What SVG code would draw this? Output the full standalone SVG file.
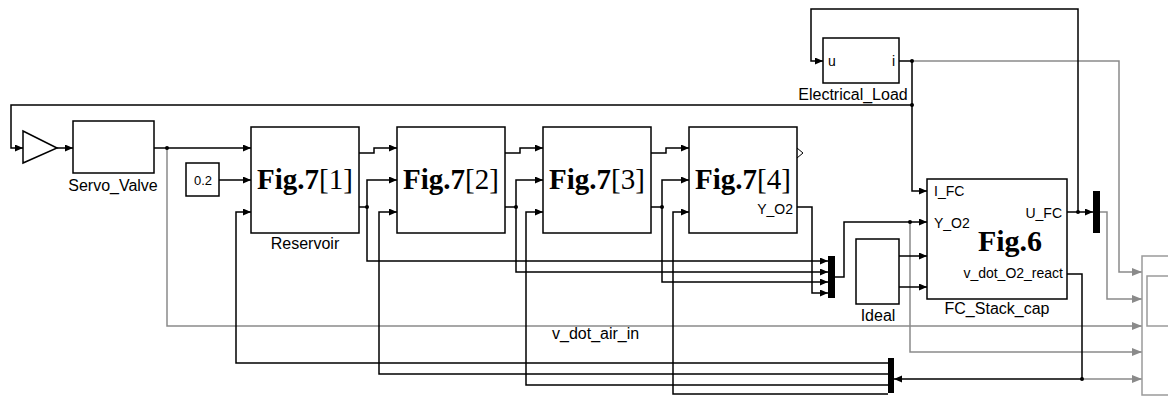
<svg xmlns="http://www.w3.org/2000/svg" width="1168" height="396" viewBox="0 0 1168 396">
<style>
.blk{fill:#fff;stroke:#000;stroke-width:1.5}
.w{fill:none;stroke:#000;stroke-width:1.5}
.g{fill:none;stroke:#8a8a8a;stroke-width:1.5}
.bar{fill:#000}
.lbl{font-family:"Liberation Sans",Arial,sans-serif;font-size:16px;fill:#000}
.port{font-family:"Liberation Sans",Arial,sans-serif;font-size:14px;fill:#000}
.fig{font-family:"Liberation Serif","Times New Roman",serif;font-size:29px;fill:#000}
.b{font-weight:bold}
.dot{fill:#000}
</style>
<defs>
<marker id="ab" markerWidth="8" markerHeight="8" refX="8" refY="3.5" orient="auto" markerUnits="userSpaceOnUse"><path d="M0,0L8,3.5L0,7z" fill="#000"/></marker>
<marker id="ag" markerWidth="10" markerHeight="10" refX="10" refY="4" orient="auto" markerUnits="userSpaceOnUse"><path d="M0,0L10,4L0,8z" fill="#8a8a8a"/></marker>
</defs>

<g id="connectors">
<path class="w" d="M912,105H11V148H23" marker-end="url(#ab)"/>
<path class="w" d="M57,148H73" marker-end="url(#ab)"/>
<path class="w" d="M154,148H251" marker-end="url(#ab)"/>
<path class="g" d="M167,148V326H1142" marker-end="url(#ag)"/>
<path class="w" d="M219,180H251" marker-end="url(#ab)"/>
<path class="w" d="M888,363H236V212H251" marker-end="url(#ab)"/>
<path class="w" d="M359,153H374V148H397" marker-end="url(#ab)"/>
<path class="w" d="M359,207H367V180H397" marker-end="url(#ab)"/>
<path class="w" d="M367,207V261H828" marker-end="url(#ab)"/>
<path class="w" d="M888,374H379V212H397" marker-end="url(#ab)"/>
<path class="w" d="M505,153H520V148H543" marker-end="url(#ab)"/>
<path class="w" d="M505,207H516V180H543" marker-end="url(#ab)"/>
<path class="w" d="M516,207V272H828" marker-end="url(#ab)"/>
<path class="w" d="M888,385H526V212H543" marker-end="url(#ab)"/>
<path class="w" d="M651,153H666V148H689" marker-end="url(#ab)"/>
<path class="w" d="M651,207H662V180H689" marker-end="url(#ab)"/>
<path class="w" d="M662,207V282H828" marker-end="url(#ab)"/>
<path class="w" d="M888,394H673V212H689" marker-end="url(#ab)"/>
<path class="w" d="M797,207H812V293H828" marker-end="url(#ab)"/>
<path class="w" d="M835,277H844V222H927" marker-end="url(#ab)"/>
<path class="g" d="M910,222V352H1142" marker-end="url(#ag)"/>
<path class="w" d="M899,256H927" marker-end="url(#ab)"/>
<path class="w" d="M899,287H927" marker-end="url(#ab)"/>
<path class="w" d="M899,61H912V191H927" marker-end="url(#ab)"/>
<path class="g" d="M912,61H1119V272H1142" marker-end="url(#ag)"/>
<path class="w" d="M1067,212H1093" marker-end="url(#ab)"/>
<path class="w" d="M1078,212V9H811V61H823" marker-end="url(#ab)"/>
<path class="g" d="M1100,212H1107V299H1142" marker-end="url(#ag)"/>
<path class="w" d="M1067,274H1082V379H894" marker-end="url(#ab)"/>
<path class="g" d="M1082,379H1142" marker-end="url(#ag)"/>
<circle class="dot" cx="167" cy="148" r="2"/>
<circle class="dot" cx="367" cy="207" r="2"/>
<circle class="dot" cx="516" cy="207" r="2"/>
<circle class="dot" cx="662" cy="207" r="2"/>
<circle class="dot" cx="910" cy="222" r="2"/>
<circle class="dot" cx="912" cy="61" r="2"/>
<circle class="dot" cx="912" cy="105" r="2"/>
<circle class="dot" cx="1078" cy="212" r="2"/>
<circle class="dot" cx="1082" cy="379" r="2"/>
</g>

<g id="gain"><path class="blk" d="M23,131L57,148L23,163z"/></g>
<g id="servo_valve">
<rect class="blk" x="73" y="121" width="81" height="52"/>
<text class="lbl" x="113" y="191" text-anchor="middle">Servo_Valve</text>
</g>
<g id="const">
<rect class="blk" x="186" y="163" width="33" height="33"/>
<text class="port" x="203" y="185" text-anchor="middle" style="font-size:13px">0.2</text>
</g>
<g id="reservoir">
<rect class="blk" x="251" y="127" width="108" height="106"/>
<text class="fig" x="305" y="189" text-anchor="middle"><tspan class="b">Fig.7</tspan>[1]</text>
<text class="lbl" x="305" y="249" text-anchor="middle">Reservoir</text>
</g>
<g id="fig7_2">
<rect class="blk" x="397" y="127" width="108" height="106"/>
<text class="fig" x="451" y="189" text-anchor="middle"><tspan class="b">Fig.7</tspan>[2]</text>
</g>
<g id="fig7_3">
<rect class="blk" x="543" y="127" width="108" height="106"/>
<text class="fig" x="597" y="189" text-anchor="middle"><tspan class="b">Fig.7</tspan>[3]</text>
</g>
<g id="fig7_4">
<rect class="blk" x="689" y="127" width="108" height="106"/>
<text class="fig" x="743" y="189" text-anchor="middle"><tspan class="b">Fig.7</tspan>[4]</text>
<text class="port" x="793" y="214" text-anchor="end">Y_O2</text>
<path d="M797,148L803,153L797,158" fill="none" stroke="#000" stroke-width="1"/>
</g>
<g id="mux_o2"><rect class="bar" x="828" y="256" width="7" height="42"/></g>
<g id="ideal">
<rect class="blk" x="856" y="239" width="43" height="65"/>
<text class="lbl" x="878" y="321" text-anchor="middle">Ideal</text>
</g>
<g id="electrical_load">
<rect class="blk" x="823" y="38" width="76" height="45"/>
<text class="port" x="828" y="66">u</text>
<text class="port" x="895" y="66" text-anchor="end">i</text>
<text class="lbl" x="853" y="100" text-anchor="middle">Electrical_Load</text>
</g>
<g id="fc_stack_cap">
<rect class="blk" x="927" y="179" width="140" height="120"/>
<text class="port" x="934" y="196">I_FC</text>
<text class="port" x="934" y="228">Y_O2</text>
<text class="port" x="1062" y="218" text-anchor="end">U_FC</text>
<text class="port" x="1063" y="278" text-anchor="end">v_dot_O2_react</text>
<text class="fig b" x="1010" y="251" text-anchor="middle" style="font-size:30px">Fig.6</text>
<text class="lbl" x="997" y="314" text-anchor="middle">FC_Stack_cap</text>
</g>
<g id="mux_u"><rect class="bar" x="1093" y="191" width="7" height="42"/></g>
<g id="demux"><rect class="bar" x="888" y="358" width="6" height="35"/></g>
<g id="scope">
<rect x="1142" y="256" width="40" height="139" fill="#fff" stroke="#9a9a9a" stroke-width="1.5"/>
<rect x="1147" y="276" width="30" height="50" fill="#fff" stroke="#9a9a9a" stroke-width="1.5"/>
</g>
<text class="lbl" x="552" y="339">v_dot_air_in</text>
</svg>
